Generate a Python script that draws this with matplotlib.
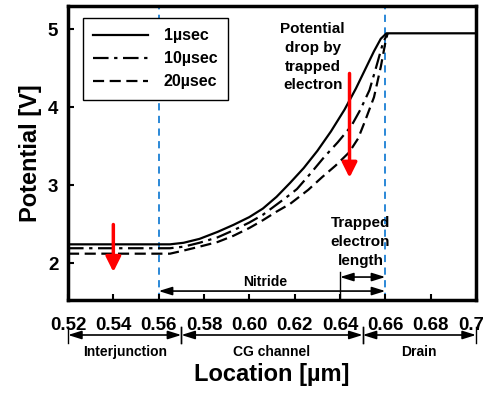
import numpy as np
import matplotlib
matplotlib.use("Agg")
import matplotlib.pyplot as plt

plt.rcParams['font.family'] = ['Liberation Sans', 'DejaVu Sans']
plt.rcParams['font.weight'] = 'bold'

# courbes : position [um] -> potentiel [V]
loc_1us = [0.52, 0.565, 0.571, 0.578, 0.586, 0.593, 0.600, 0.606, 0.612, 0.618,
           0.624, 0.630, 0.636, 0.642, 0.647, 0.651, 0.655, 0.658, 0.6605, 0.70]
pot_1us = [2.24, 2.24, 2.26, 2.31, 2.40, 2.49, 2.59, 2.70, 2.85, 3.03,
           3.22, 3.44, 3.69, 3.97, 4.24, 4.48, 4.72, 4.88, 4.95, 4.95]

loc_10us = [0.52, 0.565, 0.571, 0.578, 0.586, 0.593, 0.600, 0.606, 0.612, 0.618,
            0.621, 0.627, 0.633, 0.639, 0.645, 0.649, 0.653, 0.656, 0.659, 0.661]
pot_10us = [2.19, 2.19, 2.21, 2.26, 2.33, 2.42, 2.52, 2.62, 2.75, 2.88,
            2.95, 3.15, 3.36, 3.55, 3.76, 3.97, 4.22, 4.52, 4.83, 4.95]

loc_20us = [0.52, 0.565, 0.571, 0.578, 0.586, 0.593, 0.600, 0.606, 0.612, 0.618,
            0.626, 0.632, 0.638, 0.644, 0.648, 0.651, 0.655, 0.658, 0.660, 0.661]
pot_20us = [2.12, 2.12, 2.16, 2.21, 2.27, 2.35, 2.45, 2.55, 2.66, 2.76,
            2.94, 3.10, 3.25, 3.42, 3.60, 3.82, 4.13, 4.52, 4.83, 4.95]

labels = ['1\u00b5sec', '10\u00b5sec', '20\u00b5sec']

# zones sous l'axe x
regions = ['Interjunction', 'CG channel', 'Drain']
region_bounds = [(0.52, 0.57), (0.57, 0.65), (0.65, 0.70)]

fig = plt.figure(figsize=(4.83, 3.93), dpi=100)
ax = fig.add_axes([0.1408, 0.2366, 0.8447, 0.748])

ax.plot(loc_1us, pot_1us, color='black', lw=1.6, ls='-', label=labels[0])
ax.plot(loc_10us, pot_10us, color='black', lw=1.6, ls=(0, (7, 2.5, 1.5, 2.5)), label=labels[1])
ax.plot(loc_20us, pot_20us, color='black', lw=1.6, ls=(0, (5, 2.5)), label=labels[2])

# lignes verticales bleues
for xv in [0.56, 0.66]:
    ax.axvline(xv, color='#1a7fd4', ls=(0, (4, 3)), lw=1.3, zorder=1)

ax.set_xlim(0.52, 0.70)
ax.set_ylim(1.525, 5.3)
ax.set_xticks(np.arange(0.52, 0.701, 0.02))
ax.set_xticklabels(['%.2f' % v for v in np.arange(0.52, 0.701, 0.02)])
ax.set_yticks([2, 3, 4, 5])
ax.tick_params(axis='x', direction='in', length=4, width=1.5, pad=12, labelsize=13.5)
ax.tick_params(axis='y', direction='in', length=4, width=1.5, pad=7, labelsize=13.5)
for lab in ax.get_xticklabels() + ax.get_yticklabels():
    lab.set_fontweight('bold')
for sp in ax.spines.values():
    sp.set_linewidth(2.5)

ax.set_xlabel('Location [\u00b5m]', fontsize=17, fontweight='bold', labelpad=21)
ax.set_ylabel('Potential [V]', fontsize=17, fontweight='bold', labelpad=4)

leg = ax.legend(loc='upper left', bbox_to_anchor=(0.037, 0.959), borderaxespad=0,
                prop={'weight': 'bold', 'size': 11.5}, handlelength=3.4,
                fancybox=False, edgecolor='black', framealpha=1,
                borderpad=0.65, labelspacing=0.5, handletextpad=1.0)
leg.get_frame().set_linewidth(1.0)

# fleches rouges
red_kw = dict(arrowstyle='-|>,head_width=0.45,head_length=0.9', color='red', lw=2.5)
ax.annotate('', xy=(0.54, 1.85), xytext=(0.54, 2.53), arrowprops=red_kw)
ax.annotate('', xy=(0.6442, 3.06), xytext=(0.6442, 4.47), arrowprops=red_kw)

ax.text(0.628, 5.09, 'Potential\ndrop by\ntrapped\nelectron', ha='center', va='top',
        fontsize=11, fontweight='bold', linespacing=1.42)

# Nitride et longueur des electrons pieges
blk_kw = dict(arrowstyle='<|-|>,head_width=0.25,head_length=0.8', color='black', lw=1.2,
              shrinkA=0, shrinkB=0)
ax.annotate('', xy=(0.56, 1.64), xytext=(0.66, 1.64), arrowprops=blk_kw)
ax.text(0.607, 1.67, 'Nitride', ha='center', va='bottom', fontsize=10, fontweight='bold')
ax.annotate('', xy=(0.64, 1.82), xytext=(0.66, 1.82), arrowprops=blk_kw)
ax.plot([0.64, 0.64], [1.525, 1.89], color='black', lw=1.0)
ax.text(0.649, 2.60, 'Trapped\nelectron\nlength', ha='center', va='top',
        fontsize=11, fontweight='bold', linespacing=1.42)

# zones sous l'axe
for name, (x0, x1) in zip(regions, region_bounds):
    ax.annotate('', xy=(x0, -0.119), xytext=(x1, -0.119),
                xycoords=('data', 'axes fraction'), textcoords=('data', 'axes fraction'),
                arrowprops=blk_kw, annotation_clip=False)
    for xb in (x0, x1):
        ax.plot([xb, xb], [-0.092, -0.146], color='black', lw=1.0,
                transform=ax.get_xaxis_transform(), clip_on=False)
    ax.text((x0 + x1) / 2, -0.178, name, ha='center', va='center', fontsize=10,
            fontweight='bold', transform=ax.get_xaxis_transform())

fig.savefig('out.png', dpi=100)
